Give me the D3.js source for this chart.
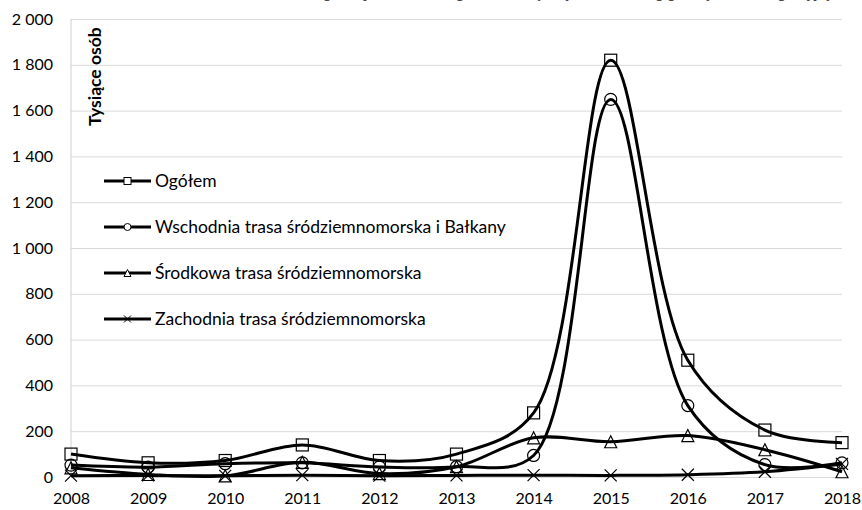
<!DOCTYPE html>
<html>
<head>
<meta charset="utf-8">
<script src="https://cdn.jsdelivr.net/npm/d3@7"></script>
<style>
  html, body { margin: 0; padding: 0; background: #fff; }
  svg { display: block; font-family: Lato, "Open Sans", sans-serif; }
</style>
</head>
<body>
<div id="chart"></div>
<script>
(function(){
    var WIDTH  = 862,
        HEIGHT = 510,
        LEFT   = 71,
        RIGHT  = 842,
        TOP    = 19,
        BOTTOM = 477;

    // data (tysiące osób)
    var years      = [2008, 2009, 2010, 2011, 2012, 2013, 2014, 2015, 2016, 2017, 2018];
    var ogolem     = [100, 62, 72, 140, 72, 100, 280, 1820, 510, 205, 150];
    var wschodnia  = [52, 43, 58, 62, 44, 45, 94, 1649, 312, 54, 62];
    var srodkowa   = [40, 11, 5, 64, 15, 45, 171, 154, 181, 119, 23];
    var zachodnia  = [6, 7, 5, 8, 6, 7, 8, 7, 10, 23, 57];
    var seriesNames = ['Ogółem', 'Wschodnia trasa śródziemnomorska i Bałkany',
                       'Środkowa trasa śródziemnomorska', 'Zachodnia trasa śródziemnomorska'];
    var yTicks     = [0, 200, 400, 600, 800, 1000, 1200, 1400, 1600, 1800, 2000];
    var caption    = 'Nielegalne przekroczenia granic zewnętrznych UE według głównych tras migracyjnych';

    var series = [
        { name: seriesNames[0], values: ogolem,    marker: 'square' },
        { name: seriesNames[1], values: wschodnia, marker: 'circle' },
        { name: seriesNames[2], values: srodkowa,  marker: 'triangle' },
        { name: seriesNames[3], values: zachodnia, marker: 'cross' }
    ];

    var x = d3.scaleLinear().domain([2008, 2018]).range([LEFT, RIGHT]);
    var y = d3.scaleLinear().domain([0, 2000]).range([BOTTOM, TOP]);

    var pl = d3.formatLocale({ decimal: ',', thousands: ' ', grouping: [3], currency: ['', ''] });
    var fmt = pl.format(',');

    var svg = d3.select('#chart').append('svg')
        .attr('width', WIDTH)
        .attr('height', HEIGHT);

    // caption above the chart, cut by the top edge as in the source (only descenders show)
    svg.append('text')
        .attr('x', 850)
        .attr('y', -3)
        .attr('text-anchor', 'end')
        .style('font-family', '"Liberation Serif", "DejaVu Serif", serif')
        .style('font-style', 'italic')
        .style('font-size', '16px')
        .attr('fill', '#333')
        .text(caption);

    // gridlines + y labels
    var yAxis = svg.append('g')
        .attr('transform', 'translate(' + LEFT + ',0)')
        .call(d3.axisLeft(y).tickValues(yTicks).tickFormat(fmt)
            .tickSize(-(RIGHT - LEFT)).tickPadding(18));
    yAxis.select('.domain').remove();
    yAxis.selectAll('.tick line').attr('stroke', '#d9d9d9').attr('stroke-width', 1);
    yAxis.selectAll('.tick text')
        .attr('fill', '#000')
        .style('font-family', 'Lato, sans-serif')
        .style('font-size', '16px');

    // left axis line
    svg.append('line')
        .attr('x1', LEFT).attr('x2', LEFT)
        .attr('y1', TOP).attr('y2', BOTTOM)
        .attr('stroke', '#d0d0d0');

    // x labels
    var xAxis = svg.append('g')
        .attr('transform', 'translate(0,' + BOTTOM + ')')
        .call(d3.axisBottom(x).tickValues(years).tickFormat(d3.format('d'))
            .tickSize(0).tickPadding(16));
    xAxis.select('.domain').remove();
    xAxis.selectAll('.tick text')
        .attr('fill', '#000')
        .style('font-family', 'Lato, sans-serif')
        .style('font-size', '16px');

    // axis title
    svg.append('text')
        .attr('transform', 'translate(101,126) rotate(-90)')
        .attr('text-anchor', 'start')
        .style('font-weight', 'bold')
        .style('font-size', '17.5px')
        .text('Tysiące osób');

    var line = d3.line()
        .x(function(d, i){ return x(years[i]); })
        .y(function(d){ return y(d); })
        .curve(d3.curveCatmullRom.alpha(0.5));

    function drawMarker(g, type, cx, cy, s) {
        var h = s / 2;
        if (type === 'square') {
            g.append('rect').attr('x', cx - h).attr('y', cy - h)
                .attr('width', s).attr('height', s);
        } else if (type === 'circle') {
            g.append('circle').attr('cx', cx).attr('cy', cy).attr('r', h);
        } else if (type === 'triangle') {
            g.append('path').attr('d', 'M' + cx + ',' + (cy - h) +
                'L' + (cx + h) + ',' + (cy + h) + 'L' + (cx - h) + ',' + (cy + h) + 'Z');
        } else {
            g.append('path').attr('d', 'M' + (cx - h) + ',' + (cy - h) + 'L' + (cx + h) + ',' + (cy + h) +
                'M' + (cx + h) + ',' + (cy - h) + 'L' + (cx - h) + ',' + (cy + h));
        }
    }

    var lines = svg.append('g').attr('class', 'lines');
    series.forEach(function(s){
        lines.append('path')
            .datum(s.values)
            .attr('d', line)
            .attr('fill', 'none')
            .attr('stroke', '#000')
            .attr('stroke-width', 3)
            .attr('stroke-linejoin', 'round');
    });

    var markers = svg.append('g')
        .attr('fill', 'none')
        .attr('stroke', '#000')
        .attr('stroke-width', 1.2);
    series.forEach(function(s){
        s.values.forEach(function(v, i){
            drawMarker(markers, s.marker, x(years[i]), y(v), 12);
        });
    });

    // legend
    var legend = svg.append('g').attr('class', 'legend');
    series.forEach(function(s, i){
        var ly = 181 + i * 46;
        legend.append('line')
            .attr('x1', 104).attr('x2', 151)
            .attr('y1', ly).attr('y2', ly)
            .attr('stroke', '#000').attr('stroke-width', 3);
        var mg = legend.append('g')
            .attr('fill', s.marker === 'cross' ? 'none' : '#fff')
            .attr('stroke', '#000').attr('stroke-width', 1);
        drawMarker(mg, s.marker, 127.5, ly, 7);
        legend.append('text')
            .attr('x', 155).attr('y', ly)
            .attr('dy', '0.35em')
            .style('font-size', '17.5px')
            .text(s.name);
    });
})();
</script>
</body>
</html>
